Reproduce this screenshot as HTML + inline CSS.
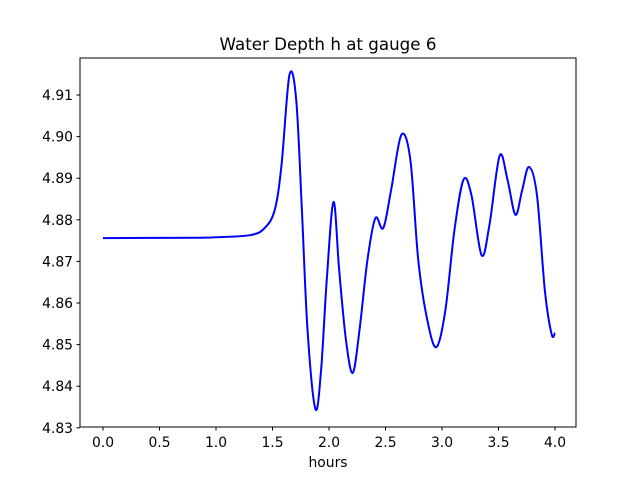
<!DOCTYPE html>
<html><head><meta charset="utf-8"><style>
body{margin:0;background:#fff;}
svg text{font-family:"DejaVu Sans","Liberation Sans",sans-serif;fill:#000;}
</style></head><body>
<svg id="chart" width="640" height="480" xmlns="http://www.w3.org/2000/svg">
<rect width="640" height="480" fill="#fff"/>
<text x="328" y="50" font-size="16.7" text-anchor="middle">Water Depth h at gauge 6</text>
<g id="ticks"></g>
<path id="line" fill="none" stroke="#0000ff" stroke-width="2"/>
<rect x="80" y="58" width="496" height="369" fill="none" stroke="#000" stroke-width="1"/>
<text x="328" y="467" font-size="13.9" text-anchor="middle">hours</text>
</svg>
<script>
const hours=[0,0.86,0.99,1.30,1.43,1.52,1.58,1.65,1.71,1.76,1.81,1.88,1.93,1.98,2.04,2.09,2.15,2.21,2.27,2.34,2.41,2.48,2.55,2.64,2.72,2.79,2.87,2.95,3.03,3.11,3.19,3.26,3.35,3.42,3.51,3.58,3.65,3.71,3.77,3.84,3.91,3.97,4.0];
const depth=[4.8756,4.8757,4.8758,4.8763,4.8780,4.8824,4.8932,4.9148,4.9088,4.8824,4.8535,4.8345,4.8439,4.8655,4.8843,4.8679,4.8511,4.8432,4.8535,4.8703,4.8804,4.8780,4.8872,4.9004,4.8944,4.8703,4.8559,4.8494,4.8583,4.8775,4.8896,4.8860,4.8715,4.8788,4.8954,4.8896,4.8812,4.8872,4.8927,4.8860,4.8631,4.8525,4.8528];
const xTicks=[0,0.5,1,1.5,2,2.5,3,3.5,4];
const xTickLabels=["0.0","0.5","1.0","1.5","2.0","2.5","3.0","3.5","4.0"];
const yTicks=[4.83,4.84,4.85,4.86,4.87,4.88,4.89,4.90,4.91];
const yTickLabels=["4.83","4.84","4.85","4.86","4.87","4.88","4.89","4.90","4.91"];
const xs=h=>103+h*113;
const ys=v=>95+(4.91-v)*4160;
const NS="http://www.w3.org/2000/svg";
const g=document.getElementById('ticks');
function mk(t,a){const e=document.createElementNS(NS,t);for(const k in a)e.setAttribute(k,a[k]);return e;}
xTicks.forEach((t,i)=>{
 const l=mk('line',{x1:xs(t),x2:xs(t),y1:427,y2:430.5,stroke:'#000'});
 
 
 g.appendChild(l);
 const tx=mk('text',{x:xs(t),y:447,'font-size':13.9,'text-anchor':'middle'});
 tx.textContent=xTickLabels[i];
 
 
 g.appendChild(tx);
});
yTicks.forEach((t,i)=>{
 const l=mk('line',{x1:76.5,x2:80,y1:ys(t),y2:ys(t),stroke:'#000'});
 
 
 g.appendChild(l);
 const tx=mk('text',{x:73,y:ys(t)+5,'font-size':13.9,'text-anchor':'end'});
 tx.textContent=yTickLabels[i];
 
 
 g.appendChild(tx);
});
const P=hours.map((h,i)=>[xs(h),ys(depth[i])]);
let d='M'+P[0][0]+','+P[0][1];
for(let i=0;i<P.length-1;i++){
 const p0=P[Math.max(0,i-1)],p1=P[i],p2=P[i+1],p3=P[Math.min(P.length-1,i+2)];
 const c1=[p1[0]+(p2[0]-p0[0])/6,p1[1]+(p2[1]-p0[1])/6];
 const c2=[p2[0]-(p3[0]-p1[0])/6,p2[1]-(p3[1]-p1[1])/6];
 d+=` C${c1[0]},${c1[1]} ${c2[0]},${c2[1]} ${p2[0]},${p2[1]}`;
}
document.getElementById('line').setAttribute('d',d);
</script>
</body></html>
